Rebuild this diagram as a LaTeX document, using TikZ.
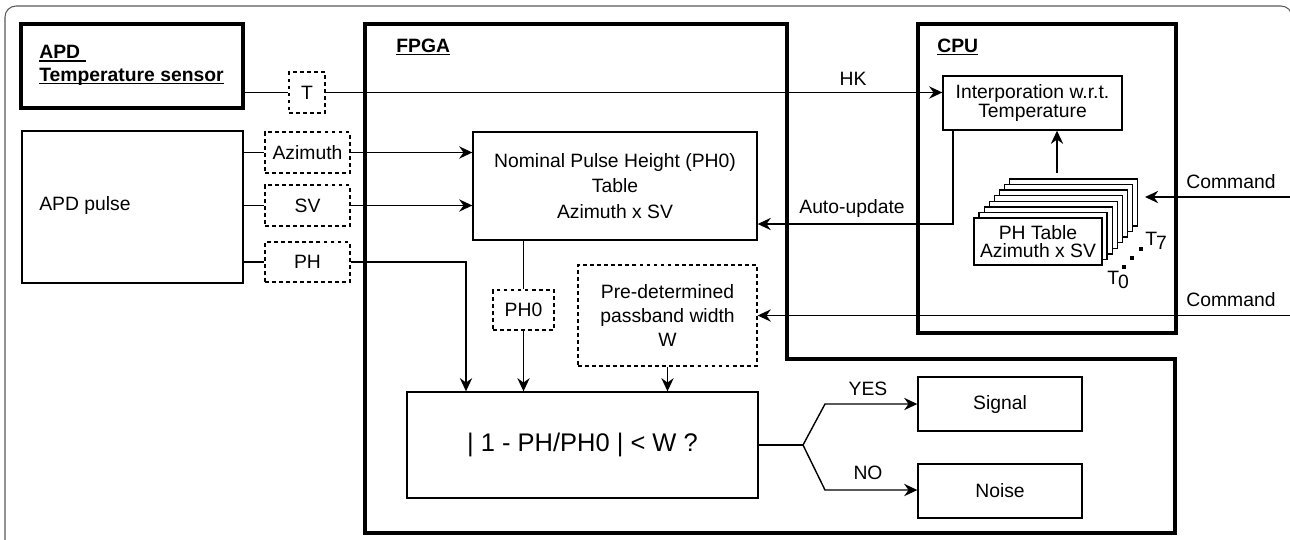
\documentclass[tikz,border=0pt]{standalone}
\usepackage{fontspec}
\setmainfont{Liberation Sans}
\usetikzlibrary{arrows.meta}
\newcommand{\undertext}[1]{\setbox0\hbox{#1}\rlap{\rule[-1.9pt]{\wd0}{0.9pt}}\box0}
\tikzset{
    plainbox/.style={draw, line width=0.8pt, inner sep=0pt, align=center},
    dashbox/.style={plainbox, dash pattern=on 2.2pt off 1.8pt},
    heavybox/.style={draw, line width=2.3pt, inner sep=0pt},
    wire/.style={line width=0.8pt},
    arr/.style={wire, -{Stealth[length=7.5pt, width=7pt, inset=2.5pt]}}
}
\begin{document}
\begin{tikzpicture}[x=0.02cm, y=-0.02cm, font=\fontsize{11}{13}\selectfont]
            \useasboundingbox (0,0) rectangle (1290,539);
            \clip (0,0) rectangle (1290,539);
            \draw[black!65, line width=0.6pt, rounded corners=0.22cm] (5,560) -- (5,6) -- (1292,6) -- (1292,560);

            \node[heavybox, minimum width=4.44cm, minimum height=1.68cm] (sensor) at (132,66) {};
            \node[anchor=west, inner sep=0pt, align=left, font=\fontsize{11}{13}\selectfont\bfseries] (sensortxt) at (39,65) {\undertext{APD\ }\\\undertext{Temperature sensor}};
            \node[plainbox, minimum width=4.42cm, minimum height=3.04cm] (pulse) at (132.5,207) {};
            \node[anchor=west, inner sep=0pt] (pulsetxt) at (39,205) {APD pulse};

            \node[dashbox, minimum width=0.72cm, minimum height=0.82cm] (tval) at (307,92.5) {T};
            \node[dashbox, minimum width=1.7cm, minimum height=0.82cm] (azim) at (307.5,152.5) {Azimuth};
            \node[dashbox, minimum width=1.7cm, minimum height=0.82cm] (svin) at (307.5,205.5) {SV};
            \node[dashbox, minimum width=1.7cm, minimum height=0.8cm] (phin) at (307.5,262) {PH};

            \draw[line width=2.3pt] (365,24) -- (787,24) -- (787,359) -- (1175,359) -- (1175,533) -- (365,533) -- cycle;
            \node[anchor=base west, inner sep=0pt, font=\fontsize{11}{13}\selectfont\bfseries] (fpgatxt) at (396,52) {\undertext{FPGA}};
            \node[heavybox, minimum width=5.16cm, minimum height=6.18cm] (cpu) at (1047,178.5) {};
            \node[anchor=base west, inner sep=0pt, font=\fontsize{11}{13}\selectfont\bfseries] (cputxt) at (937,52) {\undertext{CPU}};

            \node[plainbox, minimum width=5.68cm, minimum height=2.16cm, font=\fontsize{11}{14.5}\selectfont] (nominal) at (615,186) {Nominal Pulse Height (PH0)\\Table\\Azimuth x SV};
            \node[dashbox, minimum width=1.22cm, minimum height=0.8cm] (phzero) at (523.5,310) {PH0};
            \node[dashbox, minimum width=3.58cm, minimum height=2.02cm, font=\fontsize{11}{13.6}\selectfont] (pre) at (667.5,315.5) {Pre-determined\\passband width\\W};
            \node[plainbox, minimum width=7.02cm, minimum height=2.12cm, font=\fontsize{14.5}{17}\selectfont] (cond) at (582.5,445) {| 1 - PH/PH0 | < W ?};
            \node[plainbox, minimum width=3.28cm, minimum height=1.08cm] (signal) at (1000,404) {Signal};
            \node[plainbox, minimum width=3.28cm, minimum height=1.08cm] (noise) at (1000,491) {Noise};

            \node[plainbox, minimum width=3.58cm, minimum height=1.08cm, font=\fontsize{11}{11.3}\selectfont] (interp) at (1032.5,103) {Interporation w.r.t.\\Temperature};
            \draw[wire, fill=white] (974 + 7*5.1, 218 - 7*5.6) rectangle (1102 + 7*5.1, 265 - 7*5.6);
            \draw[wire, fill=white] (974 + 6*5.1, 218 - 6*5.6) rectangle (1102 + 6*5.1, 265 - 6*5.6);
            \draw[wire, fill=white] (974 + 5*5.1, 218 - 5*5.6) rectangle (1102 + 5*5.1, 265 - 5*5.6);
            \draw[wire, fill=white] (974 + 4*5.1, 218 - 4*5.6) rectangle (1102 + 4*5.1, 265 - 4*5.6);
            \draw[wire, fill=white] (974 + 3*5.1, 218 - 3*5.6) rectangle (1102 + 3*5.1, 265 - 3*5.6);
            \draw[wire, fill=white] (974 + 2*5.1, 218 - 2*5.6) rectangle (1102 + 2*5.1, 265 - 2*5.6);
            \draw[wire, fill=white] (974 + 1*5.1, 218 - 1*5.6) rectangle (1102 + 1*5.1, 265 - 1*5.6);
            \node[plainbox, fill=white, minimum width=2.56cm, minimum height=0.94cm, font=\fontsize{11}{10}\selectfont] (table) at (1038,241.5) {PH Table\\Azimuth x SV};
            \fill (1139,247) rectangle (1143,251);
            \fill (1130,256) rectangle (1134,260);
            \fill (1122,265) rectangle (1126,269);
            \node[anchor=base west, inner sep=0pt] (tseven) at (1145,245) {T\kern-0.6pt\raisebox{-2.3pt}{7}};
            \node[anchor=base west, inner sep=0pt] (tzero) at (1107,284) {T\kern-0.6pt\raisebox{-2.3pt}{0}};

            \coordinate (stacktop) at (1057,173);
            \coordinate (stackin) at (1145,197);
            \coordinate (cmdone) at (1291,197);
            \coordinate (cmdtwo) at (1291,315.5);
            \coordinate (updbend) at (953,224);
            \coordinate (phdrop) at (466,262);
            \coordinate (fork) at (803,445);
            \coordinate (yesbend) at (825,404);
            \coordinate (nobend) at (825,490);

            \draw[wire] (sensor.east |- tval.west) -- (tval.west);
            \draw[wire] (pulse.east |- azim.west) -- (azim.west);
            \draw[wire] (pulse.east |- svin.west) -- (svin.west);
            \draw[wire] (pulse.east |- phin.west) -- (phin.west);
            \draw[arr] (tval.east) -- (interp.west |- tval.east);
            \node (hktxt) at (853,79) {HK};
            \draw[arr] (azim.east) -- (nominal.west |- azim.east);
            \draw[arr] (svin.east) -- (nominal.west |- svin.east);
            \draw[arr] (phin.east) -- (phdrop) -- (cond.north -| phdrop);
            \draw[wire] (nominal.south -| phzero.north) -- (phzero.north);
            \draw[arr] (phzero.south) -- (cond.north -| phzero.south);
            \draw[arr] (pre.south) -- (cond.north -| pre.south);
            \draw[arr] (interp.south -| updbend) -- (updbend) -- (nominal.east |- updbend);
            \node (updtxt) at (852,208) {Auto-update};
            \draw[arr] (stacktop) -- (interp.south -| stacktop);
            \draw[arr] (cmdone) -- (stackin);
            \node (cmdonetxt) at (1231,182) {Command};
            \draw[arr] (cmdtwo) -- (pre.east |- cmdtwo);
            \node (cmdtwotxt) at (1231,300) {Command};
            \draw[wire] (cond.east) -- (fork);
            \draw[arr] (fork) -- (yesbend) -- (signal.west |- yesbend);
            \draw[arr] (fork) -- (nobend) -- (noise.west |- nobend);
            \node (yestxt) at (868,389) {YES};
            \node (notxt) at (868,473) {NO};
        \end{tikzpicture}
\end{document}
